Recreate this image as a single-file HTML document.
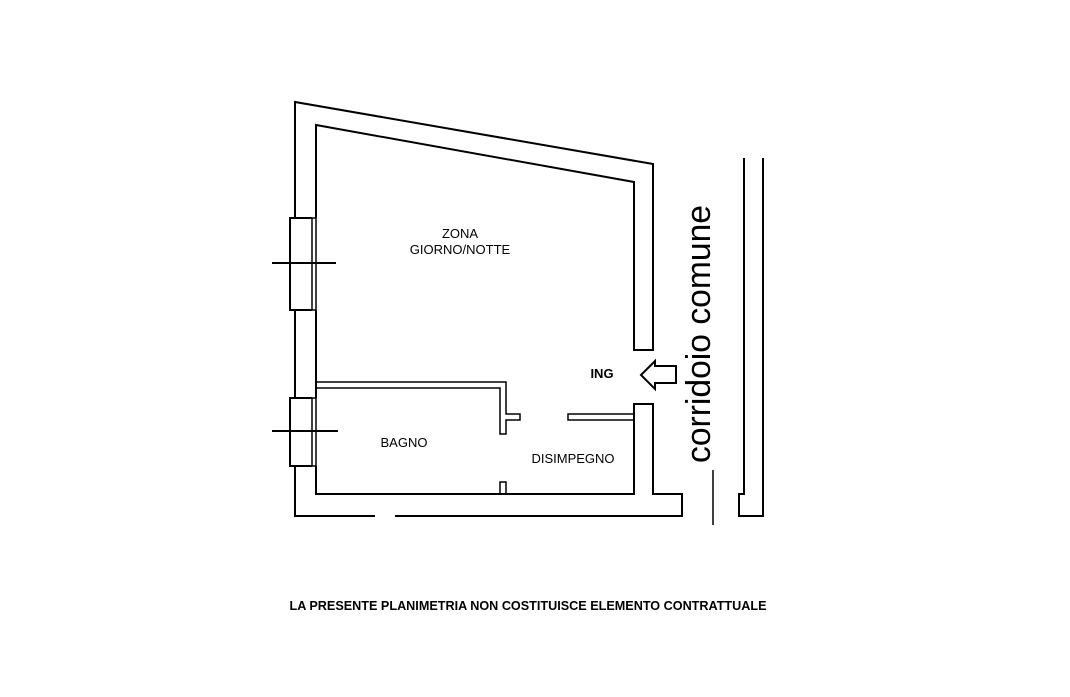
<!DOCTYPE html>
<html><head><style>html,body{margin:0;padding:0;background:#fff}</style></head><body>
<svg width="1070" height="697" viewBox="0 0 1070 697" xmlns="http://www.w3.org/2000/svg" style="display:block">
<g fill="none" stroke="#000" stroke-width="2">
<polyline points="295,218 295,102 653,164 653,350 634,350 634,182 316,125 316,218"/>
<polyline points="295,310 295,398"/>
<polyline points="316,310 316,398"/>
<polyline points="295,466 295,516 375,516"/>
<polyline points="395,516 682,516 682,494 653,494 653,404 634,404 634,494 316,494 316,466"/>
<polyline points="312,218 290,218 290,310 312,310"/>
<rect x="312" y="218" width="4" height="92" stroke-width="1.5"/>
<polyline points="312,398 290,398 290,466 312,466"/>
<rect x="312" y="398" width="4" height="68" stroke-width="1.5"/>
<line x1="272" y1="263" x2="336" y2="263"/>
<line x1="272" y1="431" x2="338" y2="431"/>
<polyline points="316,382 506,382 506,414 520,414 520,420 506,420 506,434 500,434 500,388 316,388" stroke-width="1.5"/>
<rect x="568" y="414" width="66" height="6" stroke-width="1.5"/>
<polyline points="500,494 500,482 506,482 506,494" stroke-width="1.5"/>
<polyline points="744,158 744,494 739,494 739,516 763,516 763,158"/>
<line x1="713" y1="470" x2="713" y2="525" stroke-width="1.5"/>
<polygon points="641,375 655,361 655,366 676,366 676,383 655,383 655,389"/>
</g>
<g font-family="Liberation Sans, DejaVu Sans, sans-serif" font-size="13" fill="#000" text-anchor="middle">
<text x="460" y="238">ZONA</text>
<text x="460" y="254">GIORNO/NOTTE</text>
<text x="602" y="378" font-weight="bold">ING</text>
<text x="404" y="447">BAGNO</text>
<text x="573" y="463">DISIMPEGNO</text>
<text x="528" y="610" font-weight="bold" textLength="477" lengthAdjust="spacingAndGlyphs">LA PRESENTE PLANIMETRIA NON COSTITUISCE ELEMENTO CONTRATTUALE</text>
<text transform="translate(710,334) rotate(-90)" font-size="34" textLength="258" lengthAdjust="spacingAndGlyphs">corridoio comune</text>
</g>
</svg>
</body></html>
